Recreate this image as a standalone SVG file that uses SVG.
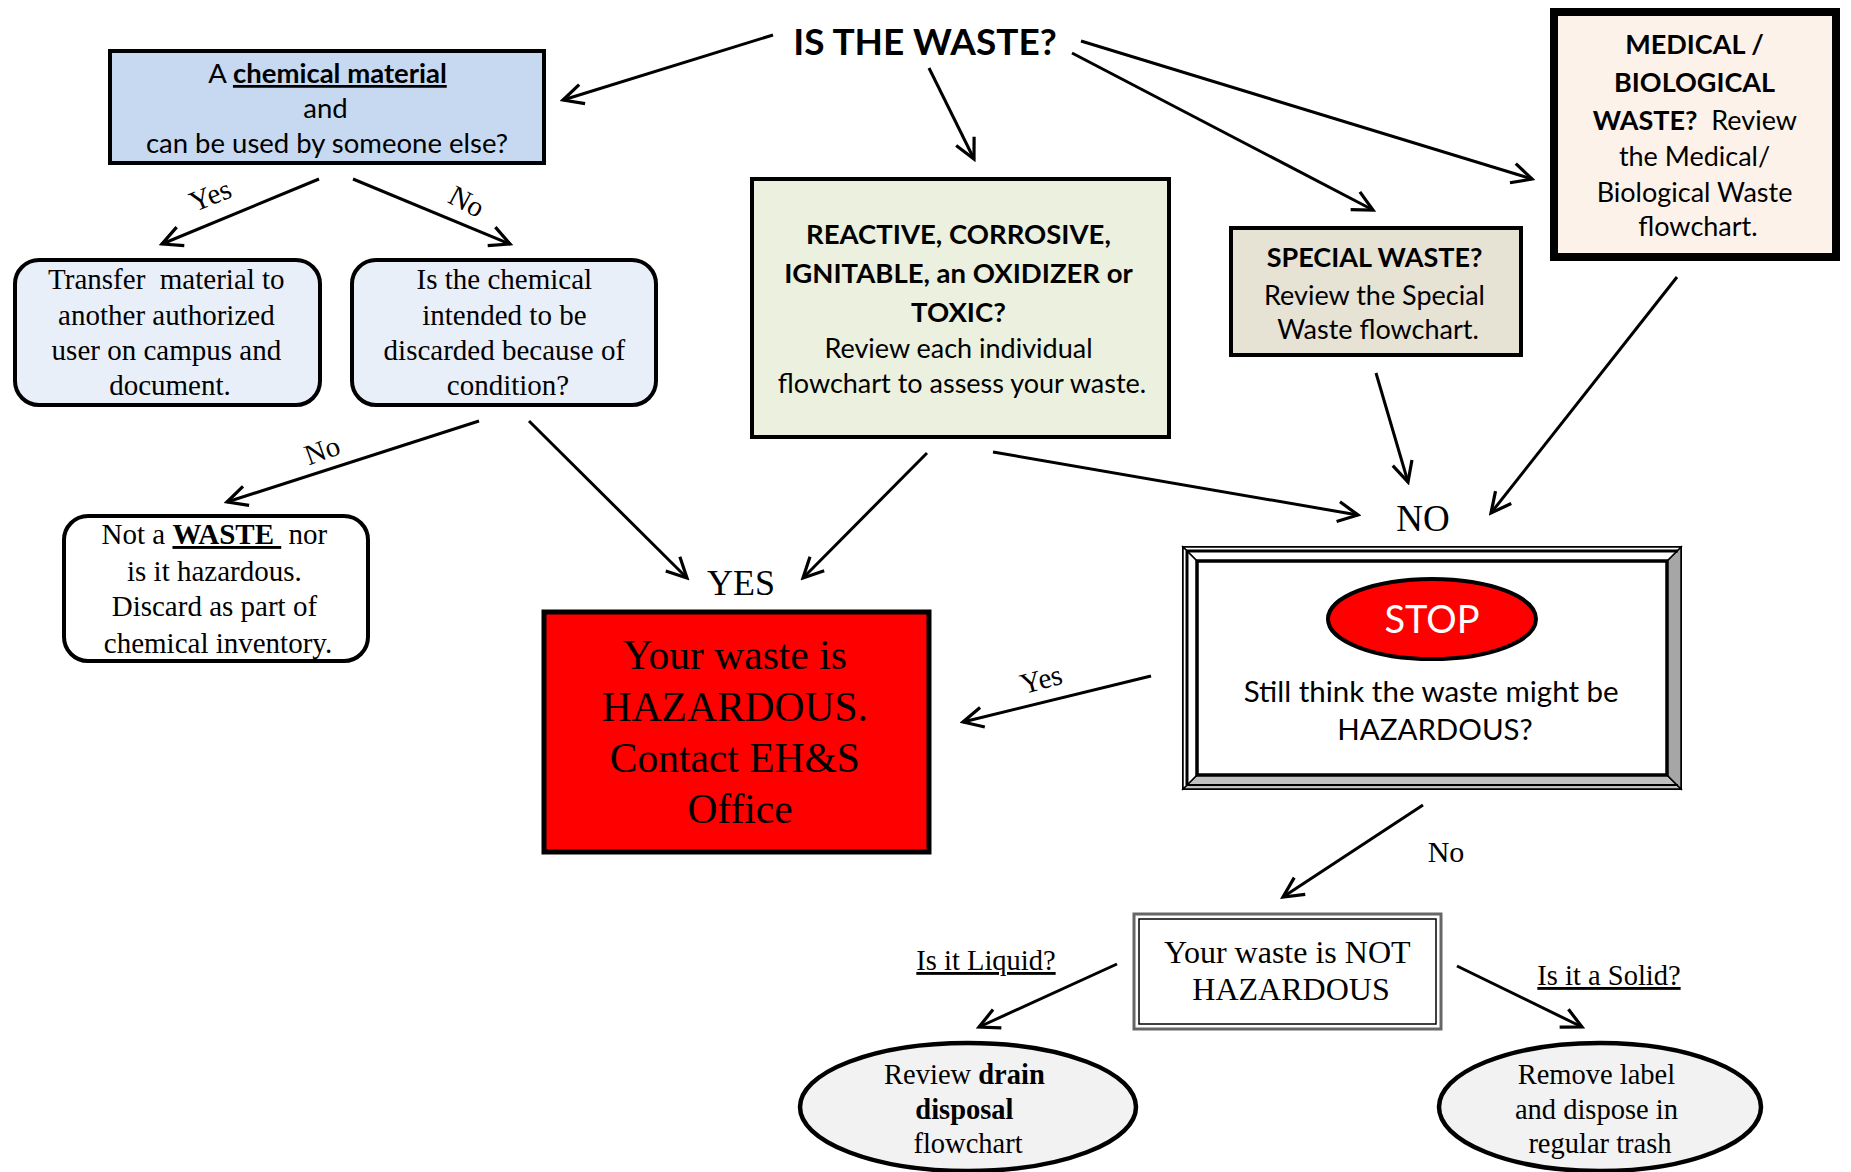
<svg xmlns="http://www.w3.org/2000/svg" width="1851" height="1172" viewBox="0 0 1851 1172">
<defs>
<style>
.sans{font-family:Lato,"Open Sans","Liberation Sans",sans-serif;}
.serif{font-family:"Liberation Serif","Times New Roman",serif;}
.b{font-weight:bold;}
.u{text-decoration:underline;}
.box{stroke:#000;stroke-width:4;}
.conn{stroke:#000;stroke-width:3;fill:none;marker-end:url(#arr);}
text{fill:#000;}
</style>
<marker id="arr" markerUnits="userSpaceOnUse" markerWidth="26" markerHeight="26" viewBox="0 0 26 26" refX="23" refY="13" orient="auto">
<path d="M3,3 L23,13 L3,23" fill="none" stroke="#000" stroke-width="3.2"/>
</marker>
</defs>
<rect width="1851" height="1172" fill="#fff"/>

<g id="connectors">
<line class="conn" x1="773" y1="35" x2="563" y2="100"/>
<line class="conn" x1="929" y1="68" x2="974" y2="159"/>
<line class="conn" x1="1072" y1="53" x2="1373" y2="210"/>
<line class="conn" x1="1081" y1="41" x2="1532" y2="179"/>
<line class="conn" x1="319" y1="179" x2="162" y2="244"/>
<line class="conn" x1="353" y1="179" x2="510" y2="244"/>
<line class="conn" x1="479" y1="421" x2="227" y2="502"/>
<line class="conn" x1="529" y1="421" x2="687" y2="578"/>
<line class="conn" x1="927" y1="453" x2="803" y2="578"/>
<line class="conn" x1="993" y1="452" x2="1358" y2="515"/>
<line class="conn" x1="1376" y1="373" x2="1408" y2="482"/>
<line class="conn" x1="1677" y1="277" x2="1491" y2="513"/>
<line class="conn" x1="1151" y1="676" x2="963" y2="722"/>
<line class="conn" x1="1423" y1="805" x2="1283" y2="897"/>
<line class="conn" x1="1117" y1="964" x2="979" y2="1027"/>
<line class="conn" x1="1457" y1="966" x2="1582" y2="1027"/>
<text class="serif" font-size="29" transform="translate(210,195) rotate(-22)" text-anchor="middle" dy="0.35em">Yes</text>
<text class="serif" font-size="29" transform="translate(467,201) rotate(28)" text-anchor="middle" dy="0.35em">No</text>
<text class="serif" font-size="29" transform="translate(322,450) rotate(-20)" text-anchor="middle" dy="0.35em">No</text>
<text class="serif" font-size="29" transform="translate(1041,679) rotate(-15)" text-anchor="middle" dy="0.35em">Yes</text>
<text class="serif" font-size="30" x="1446" y="862" text-anchor="middle">No</text>
<text class="serif u" font-size="28.5" x="986" y="970" text-anchor="middle">Is it Liquid?</text>
<text class="serif u" font-size="28.5" x="1609" y="985" text-anchor="middle">Is it a Solid?</text>
</g>

<g id="title">
<text class="sans b" font-size="37" x="925" y="55" text-anchor="middle">IS THE WASTE?</text>
</g>

<g id="chemical">
<rect class="box" x="110" y="51" width="434" height="112" fill="#C6D9F1"/>
<text class="sans" font-size="27.5" text-anchor="middle">
<tspan x="331" y="83">A <tspan class="b u">chemical material</tspan></tspan>
<tspan x="329" y="118">and</tspan>
<tspan x="327" y="153">can be used by someone else?</tspan>
</text>
</g>

<g id="reactive">
<rect class="box" x="752" y="179" width="417" height="258" fill="#EBF1DE"/>
<text class="sans" font-size="27.5" text-anchor="middle">
<tspan class="b" x="962" y="244">REACTIVE, CORROSIVE,</tspan>
<tspan class="b" x="962" y="283">IGNITABLE, an OXIDIZER or</tspan>
<tspan class="b" x="962" y="322">TOXIC?</tspan>
<tspan x="962" y="358" font-size="27">Review each individual</tspan>
<tspan x="962" y="393" font-size="27">flowchart to assess your waste.</tspan>
</text>
</g>

<g id="special">
<rect class="box" x="1231" y="228" width="290" height="127" fill="#E6E2D4"/>
<text class="sans" font-size="27" text-anchor="middle">
<tspan class="b" x="1378" y="267">SPECIAL WASTE?</tspan>
<tspan x="1378" y="305">Review the Special</tspan>
<tspan x="1378" y="339">Waste flowchart.</tspan>
</text>
</g>

<g id="medical">
<rect x="1554" y="12" width="282" height="245" fill="#FDF2E9" stroke="#000" stroke-width="8"/>
<text class="sans" font-size="27" text-anchor="middle">
<tspan class="b" x="1698" y="54">MEDICAL /</tspan>
<tspan class="b" x="1698" y="92">BIOLOGICAL</tspan>
<tspan x="1698" y="130"><tspan class="b">WASTE?</tspan>&#160; Review</tspan>
<tspan x="1698" y="166">the Medical/</tspan>
<tspan x="1698" y="202">Biological Waste</tspan>
<tspan x="1698" y="236">flowchart.</tspan>
</text>
</g>

<g id="transfer">
<rect class="box" x="15" y="260" width="305" height="145" rx="24" fill="#E9EFF9" stroke-width="4.5"/>
<text class="serif" font-size="29" text-anchor="middle">
<tspan x="170" y="289">Transfer&#160; material to</tspan>
<tspan x="170" y="325">another authorized</tspan>
<tspan x="170" y="360">user on campus and</tspan>
<tspan x="170" y="395">document.</tspan>
</text>
</g>

<g id="condition">
<rect class="box" x="352" y="260" width="304" height="145" rx="24" fill="#E9EFF9" stroke-width="4.5"/>
<text class="serif" font-size="29" text-anchor="middle">
<tspan x="508" y="289">Is the chemical</tspan>
<tspan x="508" y="325">intended to be</tspan>
<tspan x="508" y="360">discarded because of</tspan>
<tspan x="508" y="395">condition?</tspan>
</text>
</g>

<g id="notwaste">
<rect class="box" x="64" y="516" width="304" height="145" rx="24" fill="#fff" stroke-width="4.5"/>
<text class="serif" font-size="29" text-anchor="middle">
<tspan x="218" y="544">Not a <tspan class="b u">WASTE&#160;</tspan>&#160;nor</tspan>
<tspan x="218" y="581">is it hazardous.</tspan>
<tspan x="218" y="616">Discard as part of</tspan>
<tspan x="218" y="653">chemical inventory.</tspan>
</text>
</g>

<g id="yes">
<text class="serif" font-size="36" x="741" y="595" text-anchor="middle">YES</text>
</g>
<g id="no">
<text class="serif" font-size="37" x="1423" y="531" text-anchor="middle">NO</text>
</g>

<g id="hazardous">
<rect x="544" y="612" width="385" height="240" fill="#FF0000" stroke="#000" stroke-width="5"/>
<text class="serif" font-size="41.5" text-anchor="middle">
<tspan x="740" y="669">Your waste is</tspan>
<tspan x="740" y="721">HAZARDOUS.</tspan>
<tspan x="740" y="772">Contact EH&amp;S</tspan>
<tspan x="740" y="823">Office</tspan>
</text>
</g>

<g id="stop">
<rect x="1183" y="547" width="498" height="242" fill="#fff" stroke="#000" stroke-width="2"/>
<polygon points="1183,789 1681,789 1667,775 1197,775" fill="#C0C0C0" stroke="#000" stroke-width="1.5"/>
<polygon points="1681,547 1681,789 1667,775 1667,561" fill="#A6A6A6" stroke="#000" stroke-width="1.5"/>
<polygon points="1183,547 1681,547 1667,561 1197,561" fill="#fff" stroke="#000" stroke-width="1.5"/>
<polygon points="1183,547 1197,561 1197,775 1183,789" fill="#fff" stroke="#000" stroke-width="1.5"/>
<line x1="1186" y1="551" x2="1678" y2="551" stroke="#000" stroke-width="3"/>
<line x1="1187" y1="551" x2="1187" y2="785" stroke="#000" stroke-width="3"/>
<line x1="1186" y1="785" x2="1678" y2="785" stroke="#000" stroke-width="2"/>
<rect x="1197" y="561" width="470" height="214" fill="#fff" stroke="#000" stroke-width="3.5"/>
<ellipse cx="1432" cy="619" rx="104" ry="40" fill="#FF0000" stroke="#000" stroke-width="4"/>
<text class="sans" font-size="38" x="1432" y="633" text-anchor="middle" style="fill:#fff">STOP</text>
<text class="sans" font-size="29.5" text-anchor="middle">
<tspan x="1435" y="702">Still think the waste might be</tspan>
<tspan x="1435" y="740">HAZARDOUS?</tspan>
</text>
</g>

<g id="nothazardous">
<rect x="1134" y="914" width="307" height="115" fill="#fff" stroke="#666" stroke-width="3"/>
<rect x="1139" y="919" width="297" height="105" fill="none" stroke="#000" stroke-width="1.5"/>
<text class="serif" font-size="32" text-anchor="middle">
<tspan x="1291" y="963">Your waste is NOT</tspan>
<tspan x="1291" y="1000">HAZARDOUS</tspan>
</text>
</g>

<g id="drain">
<ellipse cx="968" cy="1107" rx="168" ry="64" fill="#F2F2F2" stroke="#000" stroke-width="4.5"/>
<text class="serif" font-size="28.5" text-anchor="middle">
<tspan x="968" y="1084">Review <tspan class="b">drain</tspan></tspan>
<tspan class="b" x="968" y="1119">disposal</tspan>
<tspan x="968" y="1153">flowchart</tspan>
</text>
</g>

<g id="trash">
<ellipse cx="1600" cy="1107" rx="161" ry="64" fill="#F2F2F2" stroke="#000" stroke-width="4.5"/>
<text class="serif" font-size="28.5" text-anchor="middle">
<tspan x="1600" y="1084">Remove label</tspan>
<tspan x="1600" y="1119">and dispose in</tspan>
<tspan x="1600" y="1153">regular trash</tspan>
</text>
</g>
</svg>
